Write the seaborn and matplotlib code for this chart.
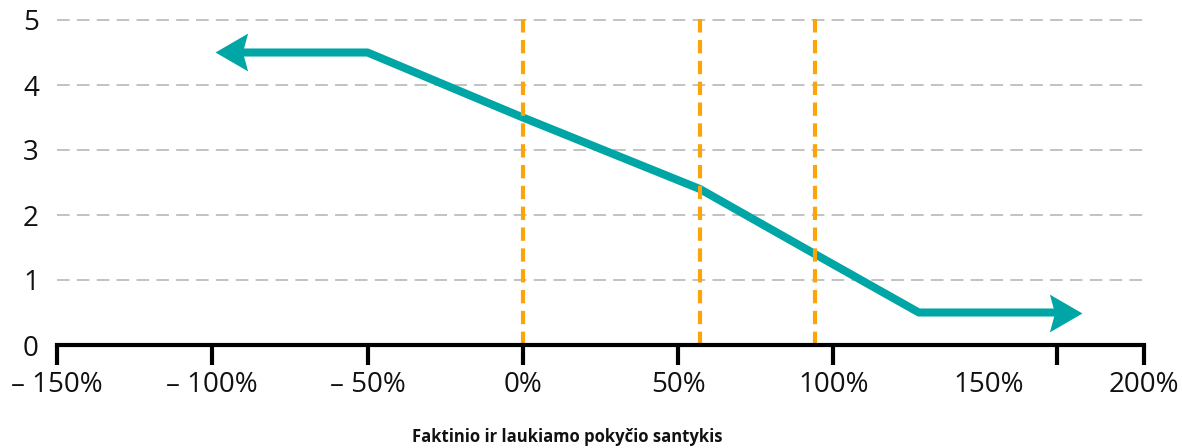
import numpy as np
import pandas as pd
import matplotlib
matplotlib.use("Agg")
import matplotlib.pyplot as plt
from matplotlib.path import Path
import seaborn as sns

# ---- data ----
ratio_pct = [-99, -50, 0, 57, 94, 127.5, 180]          # x values (%)
score = [4.5, 4.5, 3.5, 2.4, 1.4, 0.5, 0.5]            # y values
thresholds = [0, 57, 94]                               # orange dashed verticals
xtick_vals = [-150, -100, -50, 0, 50, 100, 150, 200]
xtick_labels = ["– 150%", "– 100%", "– 50%", "0%", "50%", "100%", "150%", "200%"]
xtick_marks = [-150, -100, -50, 0, 50, 100, 172, 200]
ytick_vals = [0, 1, 2, 3, 4, 5]
xlabel = "Faktinio ir laukiamo pokyčio santykis"

TEAL = "#00A6A6"
ORANGE = "#FBA50A"

sns.set_style("white")
plt.rcParams["font.family"] = ["Open Sans", "DejaVu Sans"]

W, H, DPI = 1182, 448, 100
fig = plt.figure(figsize=(W / DPI, H / DPI), dpi=DPI)
left, right = 57 / W, 1144 / W
bottom, top = (H - 345) / H, 1 - 17 / H
ax = fig.add_axes([left, bottom, right - left, top - bottom])

ax.set_xlim(-150, 200)
ax.set_ylim(0, (345 - 17) / 65)

# shorten the line ends so they sit under the arrowheads
px_per_unit = ax.transData.transform((1, 0))[0] - ax.transData.transform((0, 0))[0]
off = 20 / px_per_unit
x_line = list(ratio_pct)
x_line[0] = x_line[0] + off
x_line[-1] = x_line[-1] - off
df = pd.DataFrame({"x": x_line, "y": score})
sns.lineplot(data=df, x="x", y="y", sort=False, color=TEAL, linewidth=5.8,
             ax=ax, zorder=3, solid_capstyle="butt")

# stealth arrowheads
verts_r = [(0, 0), (-1, 0.58), (-0.84, 0), (-1, -0.58), (0, 0)]
codes = [Path.MOVETO, Path.LINETO, Path.LINETO, Path.LINETO, Path.CLOSEPOLY]
right_head = Path(verts_r, codes)
left_head = Path([(-vx, vy) for vx, vy in verts_r], codes)
ax.plot([ratio_pct[-1]], [score[-1]], marker=right_head, markersize=47,
        color=TEAL, markeredgewidth=0, linestyle="none", zorder=4)
ax.plot([ratio_pct[0]], [score[0]], marker=left_head, markersize=47,
        color=TEAL, markeredgewidth=0, linestyle="none", zorder=4)

# threshold lines
for t in thresholds:
    ax.axvline(t, color=ORANGE, linewidth=3, linestyle=(0, (3.2, 1.8)), zorder=5)

# grid
ax.set_yticks(ytick_vals)
ax.yaxis.grid(True, color="#BDBDBD", linewidth=1.3, linestyle=(0, (7, 4)), zorder=1)
ax.xaxis.grid(False)
ax.set_axisbelow(True)

# spines
for s in ["left", "right", "top"]:
    ax.spines[s].set_visible(False)
ax.spines["bottom"].set_linewidth(3)
ax.spines["bottom"].set_color("black")
ax.spines["bottom"].set_zorder(6)

# x ticks: labels on major (no marks), marks on minor
ax.xaxis.remove_overlapping_locs = False
ax.set_xticks(xtick_vals)
ax.set_xticklabels(xtick_labels)
ax.set_xticks(xtick_marks, minor=True)
ax.tick_params(axis="x", which="major", length=0, pad=19, labelsize=20, labelcolor="#111111")
ax.tick_params(axis="x", which="minor", length=14.5, width=3, color="black", direction="out",
               bottom=True)
ax.tick_params(axis="y", length=0, pad=13, labelsize=20, labelcolor="#111111")
ax.set_yticklabels([str(v) for v in ytick_vals])

ax.set_xlabel("")
ax.set_ylabel("")
fig.text(567 / W, 1 - 437 / H, xlabel, ha="center", va="center",
         fontsize=12, fontweight="bold", color="#111111")

fig.savefig("out.png", dpi=DPI)
